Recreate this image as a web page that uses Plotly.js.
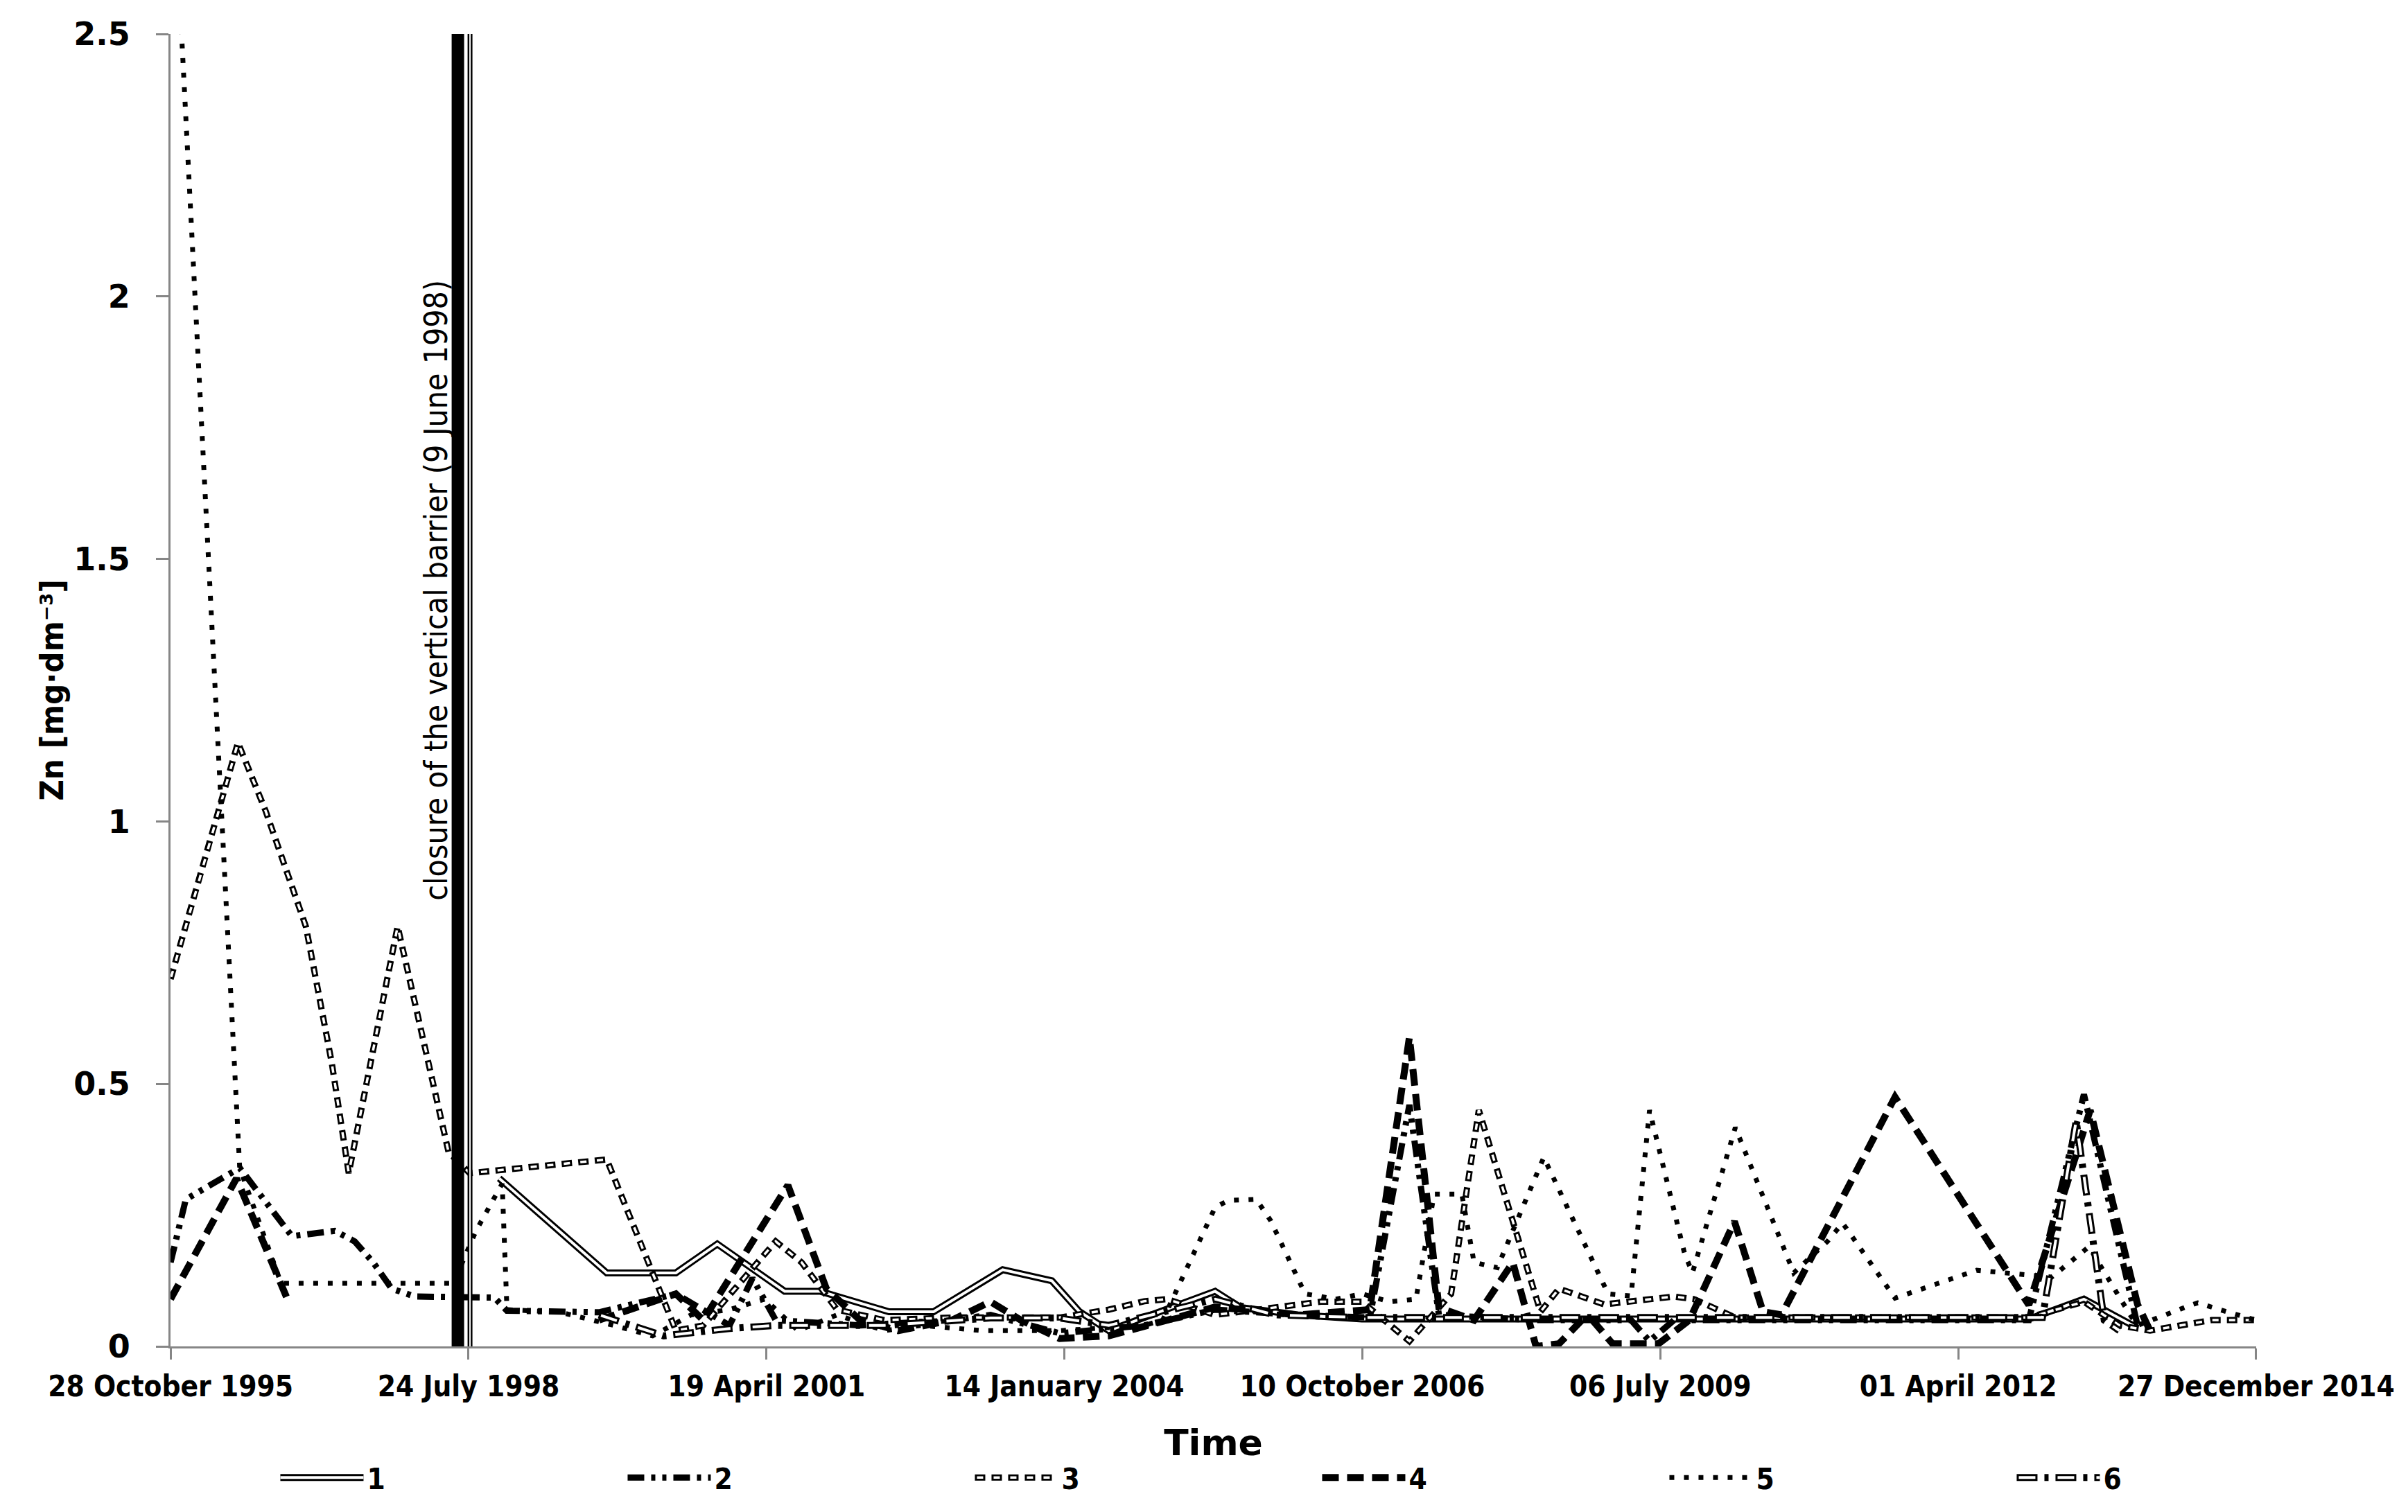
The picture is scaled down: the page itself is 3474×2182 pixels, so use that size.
<!DOCTYPE html>
<html>
<head>
<meta charset="utf-8">
<script src="https://cdn.plot.ly/plotly-3.0.1.min.js"></script>
<style>
  html, body { margin: 0; padding: 0; background: #fff; }
  #zn_graph { width: 3474px; height: 2182px; }
</style>
</head>
<body>
<div id="zn_graph"></div>
<script>

// x axis ticks (Excel date axis, every 1000 days)
var tickDates  = ['1995-10-28', '1998-07-24', '2001-04-19', '2004-01-14', '2006-10-10', '2009-07-06', '2012-04-01', '2014-12-27'];
var tickLabels = ['28 October 1995', '24 July 1998', '19 April 2001', '14 January 2004', '10 October 2006', '06 July 2009', '01 April 2012', '27 December 2014'];

var barrierDate  = '1998-06-09';
var barrierLabel = 'closure of the vertical barrier (9 June 1998)';

var seriesNames = ['1', '2', '3', '4', '5', '6'];

// series 1
var s1Dates  = ['1998-11-04', '1999-10-31', '2000-06-19', '2000-11-05', '2001-06-19', '2001-10-16', '2002-06-04', '2002-11-01',
                '2003-06-21', '2003-12-03', '2004-03-05', '2004-06-11', '2005-06-03', '2005-08-28', '2006-03-07', '2006-10-09',
                '2008-05-15', '2010-11-02', '2012-11-24', '2013-05-28', '2013-11-24'];
var s1Values = [0.32, 0.14, 0.14, 0.195, 0.105, 0.105, 0.066, 0.066,
                0.146, 0.125, 0.066, 0.03, 0.105, 0.074, 0.06, 0.052,
                0.052, 0.052, 0.052, 0.09, 0.035];

// series 2
var s2Dates  = ['1995-10-28', '1995-12-18', '1996-06-16', '1996-12-08', '1997-05-01', '1997-07-07', '1997-09-07', '1997-11-08',
                '1998-01-24', '1998-10-19', '1998-11-30', '1999-10-05', '2000-06-19', '2000-12-16', '2001-03-03', '2001-05-20',
                '2002-02-27', '2003-01-02', '2003-05-11', '2003-12-29', '2004-10-08', '2005-06-03', '2006-03-07', '2006-11-04',
                '2007-03-17', '2007-06-24', '2008-05-15', '2009-03-30', '2009-05-31', '2009-08-21', '2012-11-24', '2013-05-28',
                '2013-11-24'];
var s2Values = [0.16, 0.28, 0.34, 0.21, 0.22, 0.20, 0.16, 0.11,
                0.095, 0.093, 0.068, 0.065, 0.10, 0.04, 0.13, 0.05,
                0.04, 0.05, 0.06, 0.025, 0.04, 0.07, 0.06, 0.055,
                0.46, 0.06, 0.05, 0.05, 0.01, 0.05, 0.05, 0.48,
                0.04];

// series 3
var s3Dates  = ['1995-10-28', '1996-02-02', '1996-06-10', '1996-09-11', '1997-01-24', '1997-04-21', '1997-06-17', '1997-11-28',
                '1998-02-24', '1998-05-18', '1998-07-28', '1999-10-31', '2000-06-19', '2000-09-19', '2001-05-20', '2001-08-15',
                '2001-12-12', '2002-05-20', '2003-01-02', '2003-12-29', '2004-06-11', '2004-10-08', '2004-12-24', '2005-06-03',
                '2006-05-23', '2006-10-09', '2007-03-17', '2007-08-04', '2007-11-05', '2008-05-30', '2008-07-31', '2008-12-30',
                '2009-08-21', '2009-10-27', '2010-03-15', '2012-11-24', '2013-05-28', '2013-09-24', '2014-01-05', '2014-07-30',
                '2014-12-27'];
var s3Values = [0.70, 0.89, 1.15, 1.02, 0.80, 0.54, 0.33, 0.80,
                0.58, 0.37, 0.33, 0.356, 0.03, 0.04, 0.20, 0.16,
                0.07, 0.05, 0.055, 0.055, 0.07, 0.086, 0.09, 0.06,
                0.085, 0.085, 0.01, 0.10, 0.45, 0.066, 0.11, 0.08,
                0.095, 0.09, 0.055, 0.055, 0.085, 0.04, 0.03, 0.05,
                0.05];

// series 4 (no samples between late 1996 and late 1999)
var s4Dates  = ['1995-10-28', '1996-06-05', '1996-11-23', '1998-01-01', '1999-10-05', '2000-06-19', '2000-09-19', '2001-06-30',
                '2001-11-06', '2002-02-27', '2002-07-05', '2003-01-02', '2003-05-11', '2003-08-21', '2003-12-29', '2004-06-11',
                '2004-12-24', '2005-06-03', '2006-03-07', '2006-11-04', '2007-03-17', '2007-06-24', '2007-10-20', '2008-02-27',
                '2008-05-15', '2008-07-31', '2008-10-16', '2008-11-20', '2009-01-27', '2009-06-30', '2009-10-12', '2010-03-12',
                '2010-06-16', '2010-08-17', '2011-09-02', '2012-11-24', '2013-06-18', '2013-11-24', '2014-01-05'];
var s4Values = [0.09, 0.32, 0.09, null, 0.05, 0.10, 0.05, 0.307,
                0.11, 0.05, 0.03, 0.05, 0.085, 0.05, 0.015, 0.02,
                0.05, 0.075, 0.06, 0.07, 0.589, 0.074, 0.05, 0.16,
                0.0, 0.005, 0.05, 0.05, 0.005, 0.005, 0.05, 0.238,
                0.066, 0.06, 0.475, 0.079, 0.45, 0.08, 0.03];

// series 5
var s5Dates  = ['1995-11-23', '1996-06-16', '1996-11-02', '1998-06-03', '1998-08-18', '1998-11-14', '1998-11-30', '1999-05-28',
                '1999-11-24', '2000-04-02', '2000-08-09', '2000-12-16', '2001-04-14', '2001-08-03', '2001-12-12', '2002-05-20',
                '2002-09-21', '2003-04-15', '2003-12-29', '2004-10-08', '2004-12-09', '2005-06-03', '2005-07-18', '2005-10-19',
                '2005-12-06', '2006-04-01', '2006-07-13', '2006-10-09', '2007-01-10', '2007-04-08', '2007-06-08', '2007-09-09',
                '2007-10-20', '2008-01-06', '2008-06-10', '2009-01-12', '2009-03-30', '2009-05-31', '2009-09-26', '2009-10-22',
                '2010-03-15', '2010-09-27', '2011-01-18', '2011-03-10', '2011-09-02', '2012-06-02', '2013-02-09', '2013-06-14',
                '2013-10-30', '2013-11-24', '2014-05-14', '2014-06-14', '2014-09-19', '2014-12-27'];
var s5Values = [2.62, 0.34, 0.12, 0.12, 0.22, 0.31, 0.07, 0.065,
                0.04, 0.02, 0.06, 0.07, 0.09, 0.03, 0.06, 0.03,
                0.04, 0.03, 0.03, 0.04, 0.05, 0.265, 0.278, 0.28,
                0.24, 0.10, 0.09, 0.10, 0.085, 0.09, 0.29, 0.29,
                0.16, 0.15, 0.36, 0.10, 0.096, 0.45, 0.176, 0.14,
                0.417, 0.14, 0.20, 0.235, 0.092, 0.145, 0.132, 0.19,
                0.06, 0.04, 0.077, 0.083, 0.066, 0.05];

// series 6
var s6Dates  = ['1999-10-05', '2000-05-09', '2000-12-16', '2001-05-20', '2001-10-27', '2002-05-20', '2003-05-11', '2003-12-29',
                '2004-06-11', '2005-06-03', '2005-12-20', '2006-10-09', '2008-05-15', '2013-01-09', '2013-05-02', '2013-08-04',
                '2013-09-24'];
var s6Values = [0.06, 0.02, 0.034, 0.04, 0.04, 0.04, 0.054, 0.054,
                0.04, 0.09, 0.06, 0.055, 0.055, 0.055, 0.43, 0.05,
                0.03];


var TRANSPARENT = 'rgba(0,0,0,0)';

// black stroke of every series (these carry the first legend)
function baseTrace(name, x, y, width, dash) {
  return {
    type: 'scatter', mode: 'lines', name: name, x: x, y: y,
    connectgaps: false, hoverinfo: 'skip', legend: 'legend',
    line: {color: '#000000', width: width, dash: dash}
  };
}

// white core on top of the black stroke gives the "double line" look;
// series without a core get an empty entry so both legends line up
function coreTrace(name, x, y, width, dash) {
  return {
    type: 'scatter', mode: 'lines', name: name, x: x, y: y,
    connectgaps: false, hoverinfo: 'skip', legend: 'legend2',
    line: {color: width ? '#ffffff' : TRANSPARENT, width: width || 1, dash: dash || 'solid'}
  };
}

var traces = [
  baseTrace(seriesNames[0], s1Dates, s1Values, 10, 'solid'),
  coreTrace(seriesNames[0], s1Dates, s1Values, 4, 'solid'),
  baseTrace(seriesNames[1], s2Dates, s2Values, 9, '24px,10px,6px,10px,6px,10px'),
  coreTrace(seriesNames[1], [null], [null]),
  baseTrace(seriesNames[2], s3Dates, s3Values, 9, '15px,9px'),
  coreTrace(seriesNames[2], s3Dates, s3Values, 3.5, '0px,3px,9px,12px'),
  baseTrace(seriesNames[3], s4Dates, s4Values, 10, '24px,12px'),
  coreTrace(seriesNames[3], [null], [null]),
  baseTrace(seriesNames[4], s5Dates, s5Values, 7, '7px,14px'),
  coreTrace(seriesNames[4], [null], [null]),
  baseTrace(seriesNames[5], s6Dates, s6Values, 10, '30px,10px,6px,10px'),
  coreTrace(seriesNames[5], s6Dates, s6Values, 4, '0px,3px,24px,29px')
];

// entrywidth counts only the text part; symbol area (itemwidth + gaps) comes on top
var legendCommon = {
  orientation: 'h',
  x: 0.051, xanchor: 'left',
  y: -0.1, yanchor: 'middle',
  entrywidth: 366, entrywidthmode: 'pixels',
  itemwidth: 120,
  traceorder: 'normal',
  bgcolor: TRANSPARENT,
  borderwidth: 0,
  itemclick: false, itemdoubleclick: false
};

var layout = {
  width: 3474,
  height: 2182,
  paper_bgcolor: '#ffffff',
  plot_bgcolor: '#ffffff',
  font: {family: 'DejaVu Sans', color: '#000000'},
  margin: {l: 246, r: 219, t: 49, b: 239, pad: 0, autoexpand: false},
  showlegend: true,
  hovermode: false,
  xaxis: {
    type: 'date',
    range: ['1995-10-27 18:00', '2014-12-27 06:00'],
    tickmode: 'array',
    tickvals: tickDates,
    ticktext: tickLabels,
    ticks: 'outside', ticklen: 16, tickwidth: 3, tickcolor: '#868686',
    showline: true, linecolor: '#868686', linewidth: 3,
    showgrid: false, zeroline: false,
    automargin: false,
    ticklabelstandoff: 3,
    tickfont: {family: 'DejaVu Sans Condensed', size: 42, weight: 'bold', color: '#000000'},
    title: {text: 'Time', standoff: 40,
            font: {family: 'DejaVu Sans', size: 52, weight: 'bold', color: '#000000'}}
  },
  yaxis: {
    range: [0, 2.5],
    tick0: 0, dtick: 0.5,
    ticks: 'outside', ticklen: 18, tickwidth: 3, tickcolor: '#868686',
    showline: true, linecolor: '#868686', linewidth: 3,
    showgrid: false, zeroline: false,
    automargin: false,
    ticklabelstandoff: 28,
    tickfont: {family: 'DejaVu Sans', size: 46, weight: 'bold', color: '#000000'},
    title: {text: 'Zn [mg·dm⁻³]', standoff: 0,
            font: {family: 'DejaVu Sans Condensed', size: 47, weight: 'bold', color: '#000000'}}
  },
  legend: Object.assign({}, legendCommon, {
    font: {family: 'DejaVu Sans Condensed', size: 42, weight: 'bold', color: '#000000'}
  }),
  legend2: Object.assign({}, legendCommon, {
    font: {family: 'DejaVu Sans Condensed', size: 42, weight: 'bold', color: TRANSPARENT}
  }),
  shapes: [
    // thick part of the barrier line
    {type: 'rect', xref: 'x', yref: 'y', xsizemode: 'pixel', xanchor: barrierDate,
     x0: -5, x1: 13, y0: 0, y1: 2.5, fillcolor: '#000000', line: {width: 0}},
    // thin double part next to it
    {type: 'rect', xref: 'x', yref: 'y', xsizemode: 'pixel', xanchor: barrierDate,
     x0: 18, x1: 25, y0: 0, y1: 2.5, fillcolor: '#000000', line: {width: 0}},
    {type: 'rect', xref: 'x', yref: 'y', xsizemode: 'pixel', xanchor: barrierDate,
     x0: 20.5, x1: 22.5, y0: 0, y1: 2.5, fillcolor: '#ffffff', line: {width: 0}}
  ],
  annotations: [{
    xref: 'x', yref: 'y', x: barrierDate, y: 1.44,
    xshift: -28, textangle: -90, showarrow: false,
    text: barrierLabel,
    font: {family: 'DejaVu Sans Condensed', size: 46, color: '#000000'}
  }]
};

Plotly.newPlot('zn_graph', traces, layout, {displayModeBar: false, staticPlot: true});
</script>
</body>
</html>
